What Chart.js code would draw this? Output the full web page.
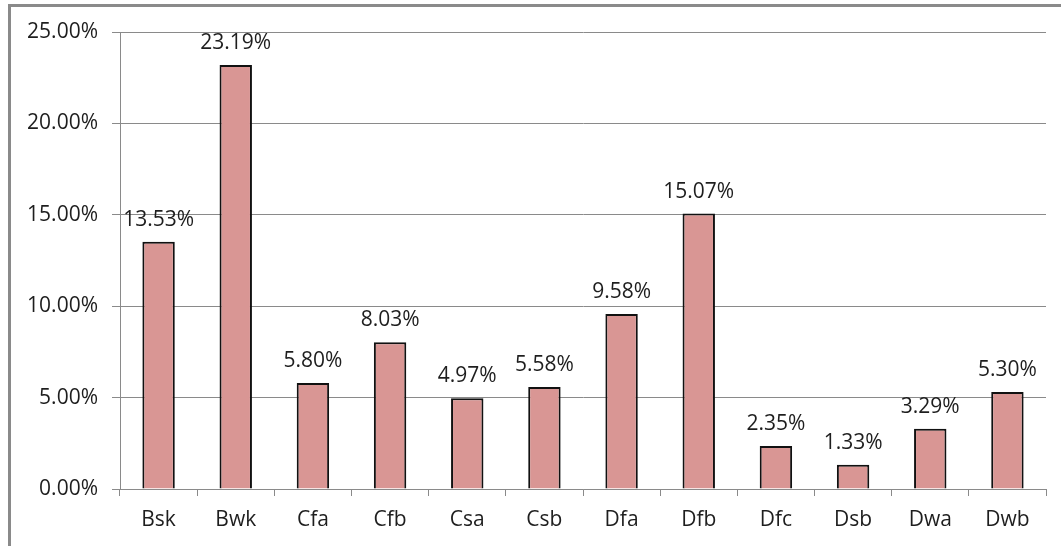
<!DOCTYPE html>
<html><head><meta charset="utf-8">
<script src="https://cdn.jsdelivr.net/npm/chart.js@4/dist/chart.umd.min.js"></script>
<style>
html,body{margin:0;padding:0;background:#fff;overflow:hidden}
#frame{position:absolute;left:8px;top:4px;width:1200px;height:700px;border-left:3px solid #8a8a8a;border-top:3px solid #8a8a8a;box-sizing:border-box}
#wrap{position:absolute;left:0;top:0;width:1061px;height:546px}
</style></head><body>
<div id="frame"></div>
<div id="wrap"><canvas id="c" width="1061" height="546"></canvas></div>
<script>
const categories = ["Bsk","Bwk","Cfa","Cfb","Csa","Csb","Dfa","Dfb","Dfc","Dsb","Dwa","Dwb"];
const shares = [13.53,23.19,5.80,8.03,4.97,5.58,9.58,15.07,2.35,1.33,3.29,5.30];
const yTicks = [0,5,10,15,20,25];

const FONT = "'Open Sans','Liberation Sans',sans-serif";
const labelPlugin = {
  id:'barLabels',
  afterDatasetsDraw(chart){
    const ctx = chart.ctx;
    const meta = chart.getDatasetMeta(0);
    ctx.save();
    ctx.font = "21px " + FONT;
    ctx.fillStyle = "#1e1e1e";
    ctx.textAlign = "center";
    ctx.textBaseline = "alphabetic";
    meta.data.forEach((bar,i)=>{
      ctx.fillText(shares[i].toFixed(2)+"%", bar.x, bar.y - 16);
    });
    ctx.restore();
  }
};

new Chart(document.getElementById('c'), {
  type:'bar',
  data:{labels:categories, datasets:[{data:shares, backgroundColor:'#D99694', borderColor:'#111', borderWidth:2, borderSkipped:'bottom', categoryPercentage:1, barPercentage:0.42}]},
  options:{
    responsive:false, animation:false,
    layout:{padding:{left:0,top:32,right:15,bottom:0}},
    plugins:{legend:{display:false}, tooltip:{enabled:false}},
    scales:{
      x:{
        offset:true,
        grid:{offset:true, drawOnChartArea:false, drawTicks:true, tickLength:7, color:'#8a8a8a'},
        border:{color:'#8a8a8a', width:1},
        ticks:{color:'#1e1e1e', font:{size:21, family:FONT}, padding:11},
        afterFit(s){ s.height = 57; }
      },
      y:{
        min:0, max:25,
        afterBuildTicks(s){ s.ticks = yTicks.map(v=>({value:v})); },
        grid:{color:'#8a8a8a', tickLength:8},
        border:{color:'#8a8a8a', width:1},
        ticks:{color:'#1e1e1e', font:{size:21, family:FONT}, padding:14, callback:v=>v.toFixed(2)+"%"},
        afterFit(s){ s.width = 120; }
      }
    }
  },
  plugins:[labelPlugin]
});
</script>
</body></html>
